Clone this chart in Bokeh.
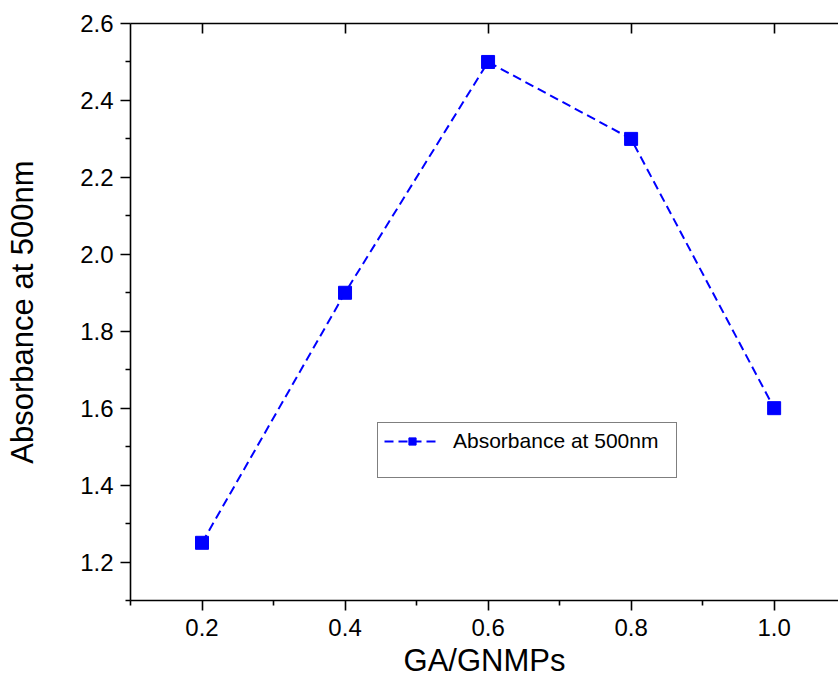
from bokeh.plotting import figure
from bokeh.models import (LinearAxis, FixedTicker, PrintfTickFormatter, Legend,
                          LegendItem, Range1d, CustomJSTickFormatter)
from bokeh.embed import file_html
from bokeh.resources import INLINE

# data
ratio = [0.2, 0.4, 0.6, 0.8, 1.0]
absorbance = [1.25, 1.90, 2.50, 2.30, 1.60]
x_major = [0.2, 0.4, 0.6, 0.8, 1.0]
x_minor = [0.1, 0.3, 0.5, 0.7, 0.9]
y_major = [1.2, 1.4, 1.6, 1.8, 2.0, 2.2, 2.4, 2.6]
y_minor = [1.1, 1.3, 1.5, 1.7, 1.9, 2.1, 2.3, 2.5]
series_name = "Absorbance at 500nm"
x_title = "GA/GNMPs"
y_title = "Absorbance at 500nm"

FONT = "Liberation Sans"
BLUE = "#0000FF"

p = figure(width=838, height=688, x_range=Range1d(0.1, 1.09), y_range=Range1d(1.1, 2.6),
           output_backend="svg", toolbar_location=None,
           min_border_left=130, min_border_right=0, min_border_top=23, min_border_bottom=88)
p.grid.visible = False
p.outline_line_color = None

xt = FixedTicker(ticks=x_major, minor_ticks=x_minor)
yt = FixedTicker(ticks=y_major, minor_ticks=y_minor)

for ax in (p.xaxis[0], p.yaxis[0]):
    ax.axis_line_width = 1.6
    ax.axis_line_color = "black"
    ax.major_tick_line_width = 1.6
    ax.minor_tick_line_width = 1.6
    ax.major_tick_line_color = "black"
    ax.minor_tick_line_color = "black"
    ax.major_tick_in = 0
    ax.major_tick_out = 10
    ax.minor_tick_in = 0
    ax.minor_tick_out = 5
    ax.major_label_text_font = FONT
    ax.major_label_text_font_size = "24px"
    ax.major_label_text_color = "black"
    ax.axis_label_text_font = FONT
    ax.axis_label_text_font_size = "31px"
    ax.axis_label_text_font_style = "normal"
    ax.axis_label_text_color = "black"
    ax.formatter = PrintfTickFormatter(format="%.1f")

p.xaxis[0].ticker = xt
p.yaxis[0].ticker = yt
p.xaxis[0].axis_label = x_title
p.yaxis[0].axis_label = y_title
p.xaxis[0].major_label_standoff = 8
p.yaxis[0].major_label_standoff = 7
p.xaxis[0].axis_label_standoff = 4
p.yaxis[0].axis_label_standoff = 37

top = LinearAxis(ticker=xt, formatter=CustomJSTickFormatter(code="return ''"),
                 axis_line_width=1.6, axis_line_color="black",
                 major_tick_in=10, major_tick_out=0, major_tick_line_width=1.6,
                 major_tick_line_color="black",
                 minor_tick_in=0, minor_tick_out=0, major_label_standoff=0,
                 major_label_text_font_size="1px")
p.add_layout(top, "above")

line_r = p.line(ratio, absorbance, line_color=BLUE, line_width=2, line_dash="9 5")
pts_r = p.scatter(ratio, absorbance, marker="square", size=13,
                  fill_color=BLUE, line_color=BLUE)
dummy = p.scatter([], [], marker="square", size=1, fill_alpha=0, line_alpha=0)

legend = Legend(items=[LegendItem(label=series_name, renderers=[line_r, pts_r]),
                       LegendItem(label=" ", renderers=[dummy])],
                location=(247, 122), margin=0, padding=6, spacing=0,
                border_line_color="black", border_line_width=1,
                label_text_font=FONT, label_text_font_size="21px",
                label_text_color="black", label_width=217,
                glyph_width=56, glyph_height=18, label_height=18, label_standoff=13)
p.add_layout(legend, "center")

open("out.html", "w").write(file_html(p, INLINE))
